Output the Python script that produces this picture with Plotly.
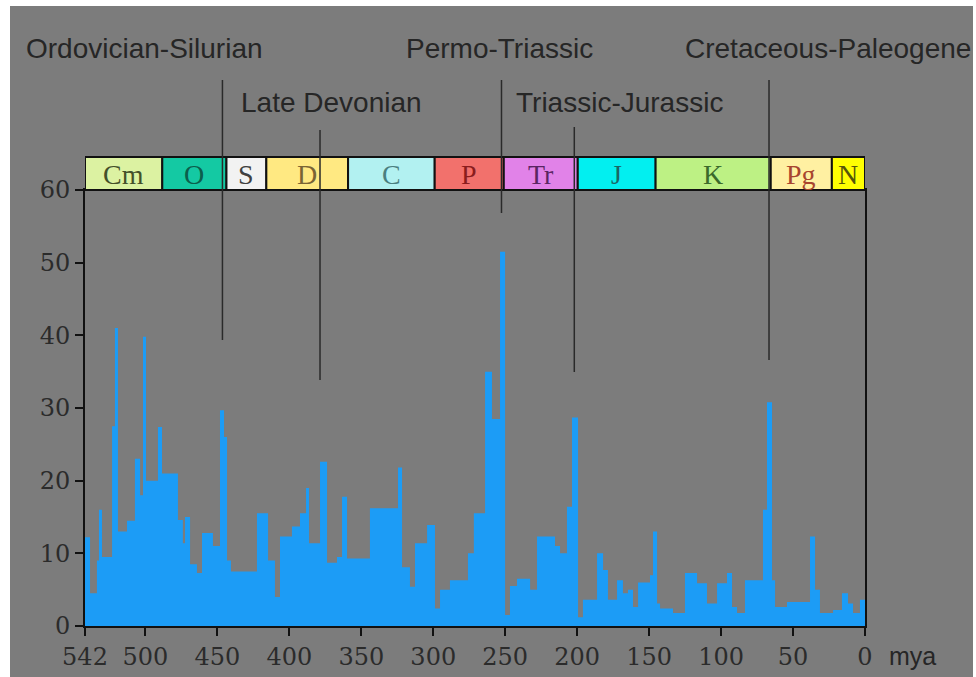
import plotly.graph_objects as go

# ---------------- data ----------------
step_start_mya = [542.0, 538.5, 533.7, 532.3, 530.2, 523.2, 521.2, 519.1, 512.8, 507.3,
                  503.7, 501.7, 499.6, 491.3, 488.5, 477.4, 474.0, 472.5, 469.0, 464.2,
                  460.7, 453.1, 448.2, 445.4, 443.3, 440.6, 422.5, 414.8, 410.0, 406.5,
                  398.2, 392.6, 388.4, 386.3, 378.7, 373.8, 366.9, 363.4, 359.9, 344.0,
                  324.5, 321.7, 316.2, 312.7, 304.3, 298.8, 295.3, 288.4, 275.9, 271.8,
                  264.0, 259.2, 253.6, 250.1, 246.7, 241.8, 232.7, 227.9, 215.4, 211.9,
                  207.1, 203.6, 199.4, 196.0, 186.2, 182.0, 178.6, 172.3, 168.2, 164.7,
                  161.2, 157.7, 149.4, 147.3, 144.5, 142.4, 133.4, 125.1, 116.7, 109.8,
                  102.8, 95.9, 92.4, 88.9, 83.4, 70.9, 68.1, 64.6, 62.5, 54.2,
                  38.2, 34.7, 31.3, 22.2, 16.0, 11.8, 8.3, 3.5]
extinction_pct = [12.2, 4.5, 9, 16, 9.5, 27.5, 41, 13, 14.5, 23,
                  18, 39.8, 20, 27.4, 21, 14.6, 11.4, 15, 8.5, 7.3,
                  12.8, 11, 29.7, 26, 9, 7.5, 15.5, 9, 4, 12.3,
                  13.7, 15.5, 19, 11.4, 22.6, 8.7, 9.5, 17.8, 9.3, 16.2,
                  21.8, 8.1, 5.4, 11.4, 13.9, 2.4, 5, 6.3, 10, 15.5,
                  35, 28.5, 51.5, 1.5, 5.5, 6.5, 5, 12.3, 11, 10,
                  16.4, 28.7, 1.2, 3.6, 10, 7.7, 3.6, 6.3, 4.5, 5,
                  2.6, 6, 7, 13, 3.1, 2.4, 1.8, 7.3, 5.9, 3.1,
                  5.9, 7.3, 2.6, 1.8, 6.3, 16, 30.8, 6.3, 2.6, 3.3,
                  12.3, 5, 1.8, 2.2, 4.5, 3.1, 1.8, 3.6]
present_mya = 0

period_names = ["Cm", "O", "S", "D", "C", "P", "Tr", "J", "K", "Pg", "N"]
period_start = [542, 488.3, 443.7, 416, 359.2, 299, 251, 199.6, 145.5, 65.5, 23.03]
period_fill = ["#dcf2a2", "#14c9a3", "#f2f2f2", "#ffe982", "#b2f1f1", "#f2716c",
               "#e182e8", "#02eff0", "#bdf184", "#fff0a2", "#ffff02"]
period_text = ["#44502a", "#0b5f4c", "#404040", "#7a6434", "#4a7f80", "#8a1d1d",
               "#5a2563", "#1b6565", "#3b6a2b", "#a8452f", "#55550a"]

event_names = ["Ordovician-Silurian", "Late Devonian", "Permo-Triassic",
               "Triassic-Jurassic", "Cretaceous-Paleogene"]
event_mya = [446.5, 378.7, 252.6, 202.0, 66.7]

x_tick_vals = [542, 500, 450, 400, 350, 300, 250, 200, 150, 100, 50, 0]
x_tick_text = ["542", "500", "450", "400", "350", "300", "250", "200", "150", "100", "50", "0"]
y_tick_vals = [0, 10, 20, 30, 40, 50, 60]

# ---------------- geometry (pixels) ----------------
W, H = 976, 677
PL, PR, PT, PB = 85, 865, 190, 626


def xp(px):
    return (px - PL) / (PR - PL)


def yp(py):
    return (PB - py) / (PB - PT)


GRAY = "#7c7c7c"
BLUE = "#1c9cf6"
INK = "#262626"

fig = go.Figure()
fig.add_trace(go.Scatter(
    x=step_start_mya + [present_mya],
    y=extinction_pct + [extinction_pct[-1]],
    mode="lines", line=dict(shape="hv", width=0, color=BLUE),
    fill="tozeroy", fillcolor=BLUE, hoverinfo="skip", showlegend=False))

shapes = []
# gray slide background
shapes.append(dict(type="rect", xref="paper", yref="paper", layer="below",
                   x0=xp(10), x1=xp(973), y0=yp(H + 10), y1=yp(6),
                   fillcolor=GRAY, line=dict(width=0)))

# geologic period band
band_y0, band_y1 = yp(190), yp(157)
period_end = period_start[1:] + [present_mya]
annotations = []
for name, s, e, fc, tc in zip(period_names, period_start, period_end, period_fill, period_text):
    shapes.append(dict(type="rect", xref="x", yref="paper", x0=s, x1=e,
                       y0=band_y0, y1=band_y1, fillcolor=fc,
                       line=dict(color="#111111", width=2)))
    annotations.append(dict(x=(s + e) / 2, y=yp(174), xref="x", yref="paper",
                            text=name, showarrow=False, xanchor="center", yanchor="middle",
                            font=dict(family="Liberation Serif", size=28, color=tc)))

# extinction event lines
line_top_py = [80, 130, 80, 127, 80]
line_bot_py = [340, 380, 213, 372, 360]
for m, t, b in zip(event_mya, line_top_py, line_bot_py):
    shapes.append(dict(type="line", xref="x", yref="paper", x0=m, x1=m,
                       y0=yp(b), y1=yp(t), line=dict(color="#2a2a2a", width=1.5)))

label_left_px = [24, 239, 404, 514, 683]
label_mid_py = [48, 102, 48, 102, 48]
for name, lx, ly in zip(event_names, label_left_px, label_mid_py):
    annotations.append(dict(x=xp(lx), y=yp(ly), xref="paper", yref="paper",
                            text=name, showarrow=False, xanchor="left", yanchor="middle",
                            font=dict(family="Liberation Sans", size=28, color=INK)))

annotations.append(dict(x=xp(887), y=yp(656), xref="paper", yref="paper", text="mya",
                        showarrow=False, xanchor="left", yanchor="middle",
                        font=dict(family="Liberation Sans", size=25, color=INK)))

fig.update_layout(
    width=W, height=H, autosize=False,
    margin=dict(l=PL, r=W - PR, t=PT, b=H - PB, pad=0),
    paper_bgcolor="white", plot_bgcolor="rgba(0,0,0,0)",
    shapes=shapes, annotations=annotations, showlegend=False,
    xaxis=dict(range=[542, 0], tickmode="array", tickvals=x_tick_vals, ticktext=x_tick_text,
               automargin=False,
               showgrid=False, zeroline=False, showline=True, linecolor="#111111", linewidth=2,
               ticks="outside", ticklen=8, tickwidth=2, tickcolor="#111111", mirror=True,
               tickfont=dict(family="DejaVu Serif", size=24, color="#2b2b2b")),
    yaxis=dict(range=[0, 60], tickmode="array", tickvals=y_tick_vals, automargin=False,
               showgrid=False, zeroline=False, showline=True, linecolor="#111111", linewidth=2,
               ticks="outside", ticklen=8, tickwidth=2, tickcolor="#111111", mirror=True,
               tickfont=dict(family="DejaVu Serif", size=24, color="#2b2b2b")),
)

fig.write_html("out.html", config={"displayModeBar": False, "responsive": False},
               post_script="document.body.style.margin='0';document.body.style.overflow='hidden';"
                           "document.body.style.background='" + GRAY + "';")
